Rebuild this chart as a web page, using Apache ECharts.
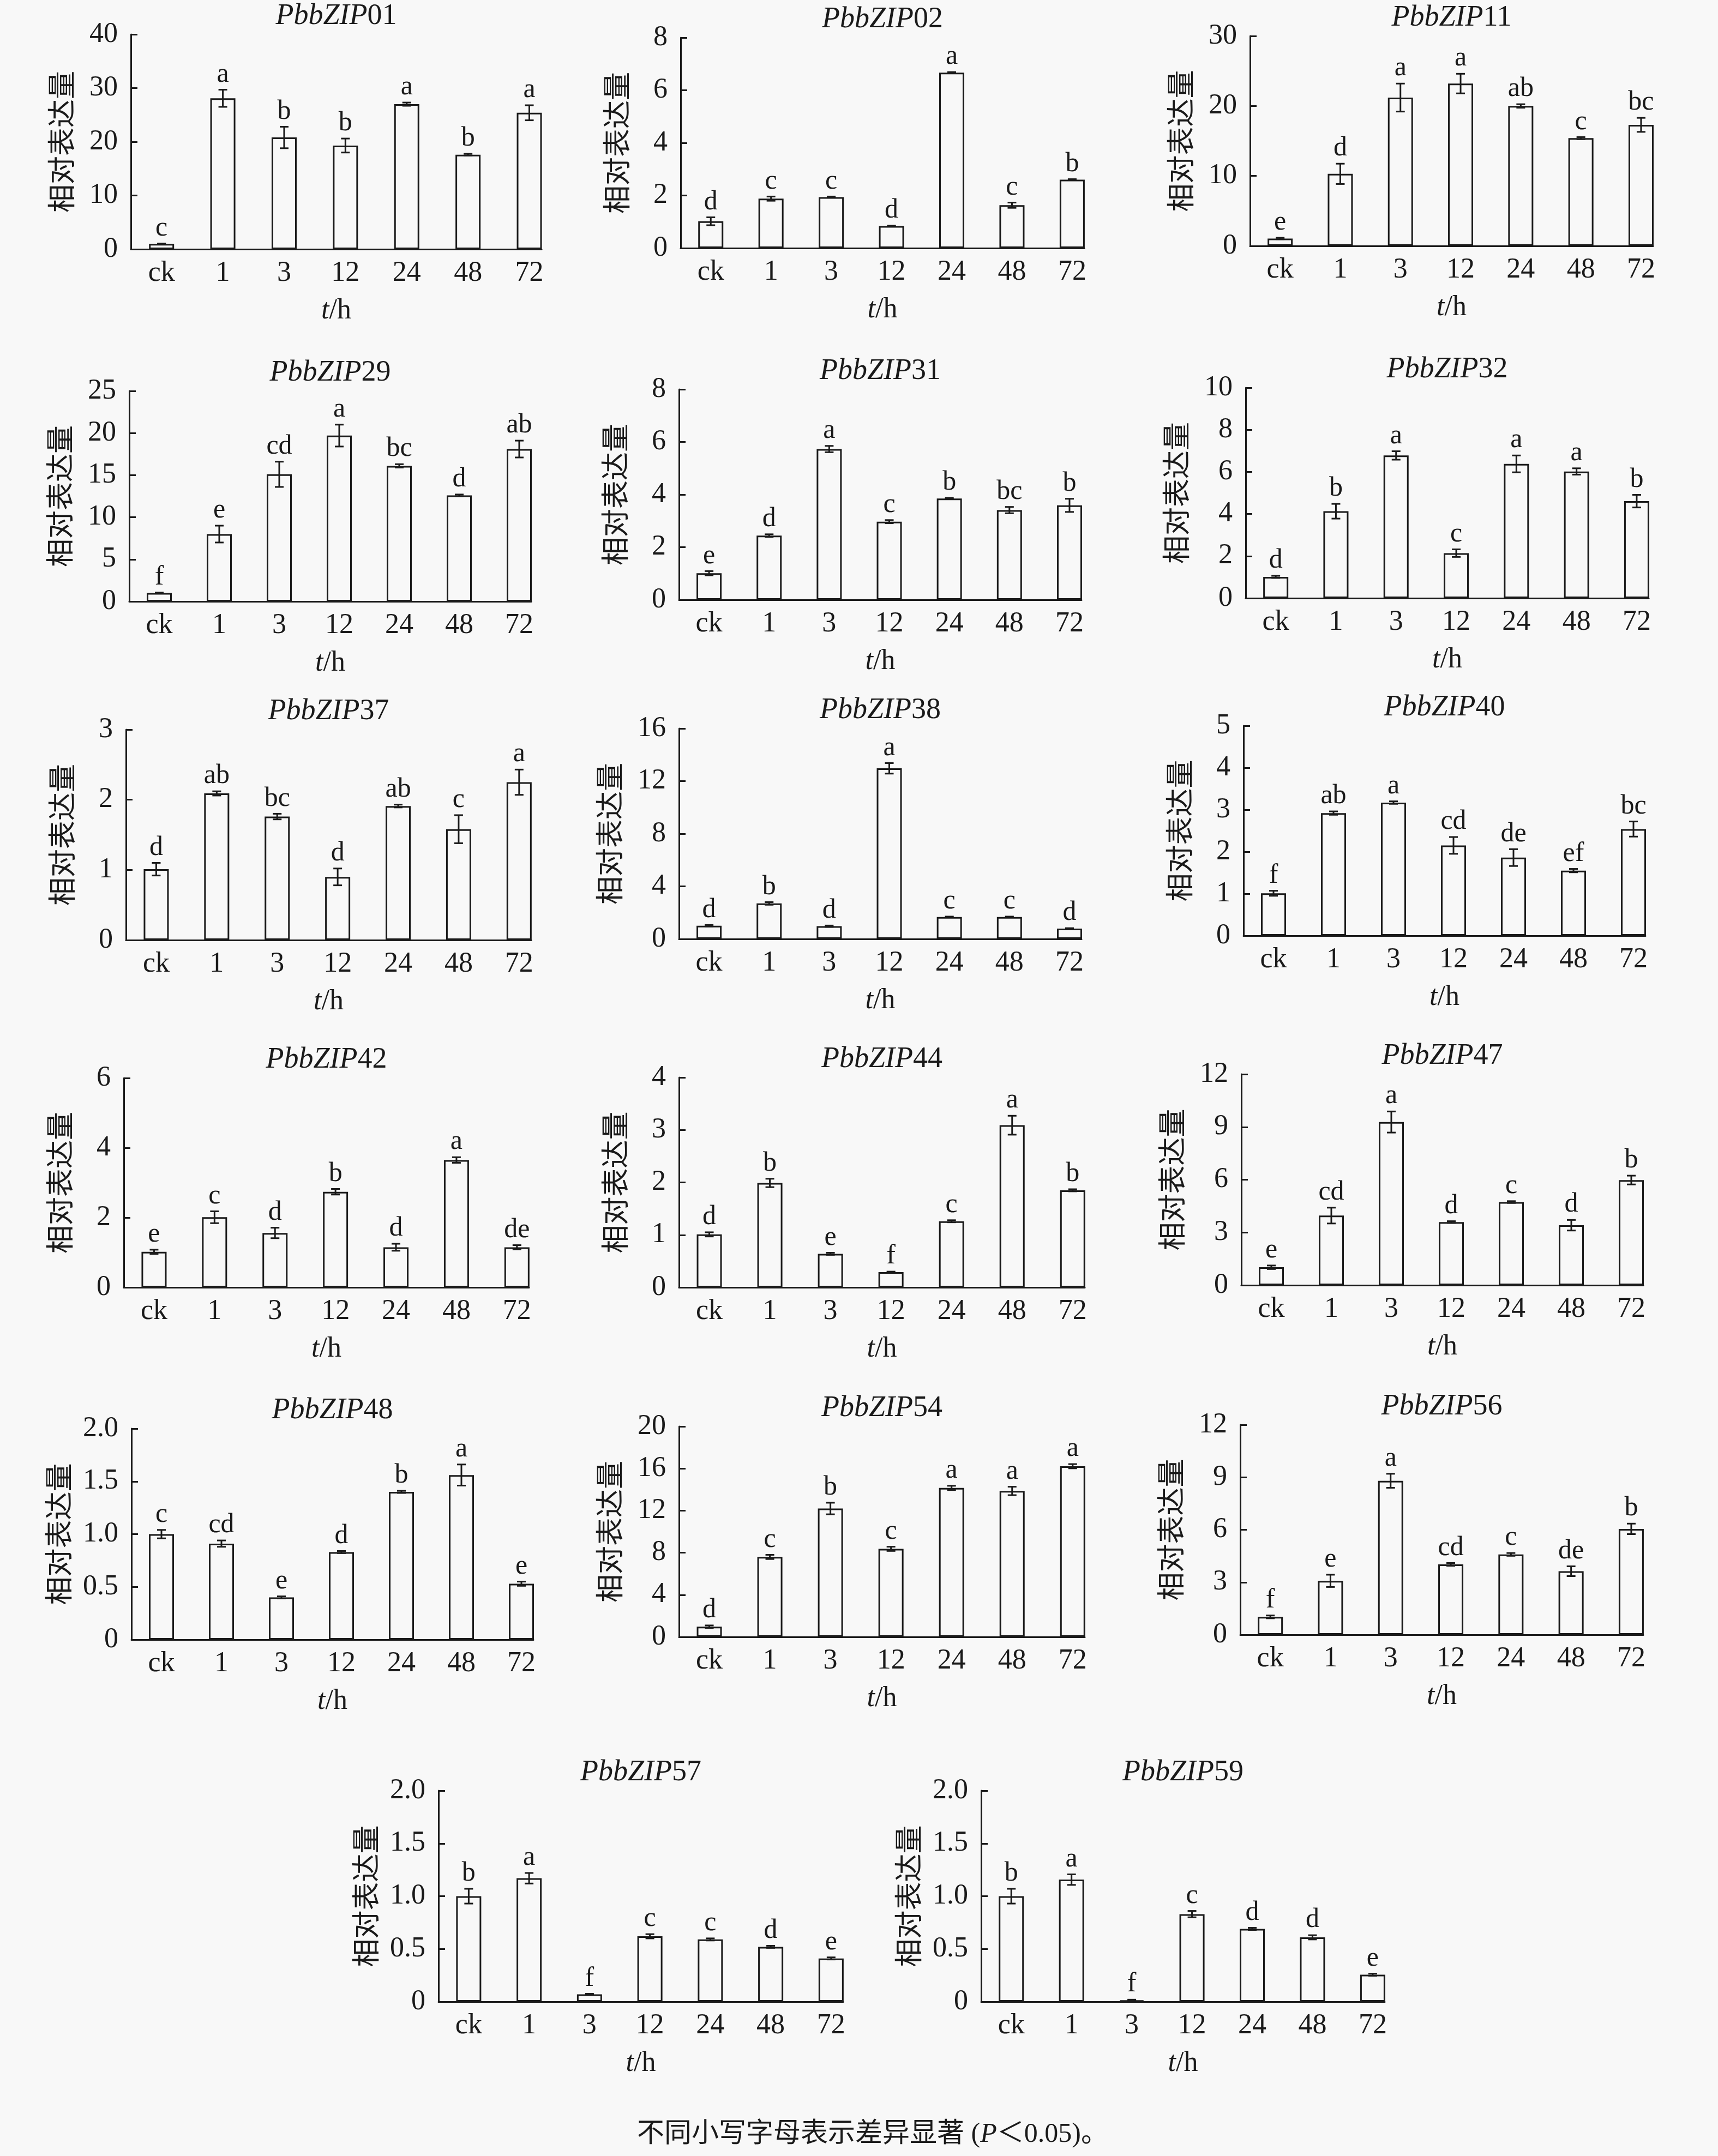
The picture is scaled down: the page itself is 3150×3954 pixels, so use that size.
<!DOCTYPE html>
<html><head><meta charset="utf-8">
<script src="https://cdn.jsdelivr.net/npm/echarts@6/dist/echarts.min.js"></script>
<style>html,body{margin:0;padding:0;background:#f8f8f8}#c{width:3150px;height:3954px}</style>
</head><body><div id="c"></div>
<script>
// ---------- data ----------
const categories = ['ck', '1', '3', '12', '24', '48', '72'];
const geneIds = ['01','02','11','29','31','32','37','38','40','42','44','47','48','54','56','57','59'];
const axisMax  = [40, 8, 30, 25, 8, 10, 3, 16, 5, 6, 4, 12, 2, 20, 12, 2, 2];
const axisStep = [10, 2, 10, 5, 2, 2, 1, 4, 1, 2, 1, 3, 0.5, 4, 3, 0.5, 0.5];

const mean01 = [1.0, 28.1, 20.8, 19.3, 27.0, 17.6, 25.4];
const err01  = [0.05, 1.6, 2.0, 1.3, 0.3, 0.15, 1.4];
const sig01  = ['c','a','b','b','a','b','a'];

const mean02 = [1.02, 1.88, 1.94, 0.84, 6.67, 1.63, 2.6];
const err02  = [0.15, 0.08, 0.02, 0.01, 0.02, 0.1, 0.02];
const sig02  = ['d','c','c','d','a','c','b'];

const mean11 = [1.06, 10.3, 21.2, 23.2, 20.0, 15.4, 17.3];
const err11  = [0.1, 1.45, 2.0, 1.4, 0.25, 0.15, 1.0];
const sig11  = ['e','d','a','a','ab','c','bc'];

const mean29 = [1.0, 8.0, 15.1, 19.7, 16.1, 12.6, 18.1];
const err29  = [0.05, 1.0, 1.5, 1.3, 0.2, 0.1, 1.0];
const sig29  = ['f','e','cd','a','bc','d','ab'];

const mean31 = [1.01, 2.44, 5.73, 2.97, 3.85, 3.41, 3.59];
const err31  = [0.08, 0.05, 0.12, 0.06, 0.02, 0.12, 0.25];
const sig31  = ['e','d','a','c','b','bc','b'];

const mean32 = [1.01, 4.13, 6.78, 2.14, 6.38, 6.02, 4.61];
const err32  = [0.05, 0.35, 0.2, 0.18, 0.4, 0.15, 0.3];
const sig32  = ['d','b','a','c','a','a','b'];

const mean37 = [1.01, 2.09, 1.76, 0.90, 1.91, 1.58, 2.25];
const err37  = [0.09, 0.03, 0.04, 0.12, 0.02, 0.2, 0.18];
const sig37  = ['d','ab','bc','d','ab','c','a'];

const mean38 = [1.01, 2.7, 0.97, 12.97, 1.67, 1.67, 0.79];
const err38  = [0.05, 0.1, 0.05, 0.4, 0.03, 0.03, 0.03];
const sig38  = ['d','b','d','a','c','c','d'];

const mean40 = [1.01, 2.92, 3.17, 2.15, 1.86, 1.55, 2.54];
const err40  = [0.06, 0.04, 0.03, 0.2, 0.2, 0.04, 0.18];
const sig40  = ['f','ab','a','cd','de','ef','bc'];

const mean42 = [1.02, 2.01, 1.56, 2.74, 1.15, 3.65, 1.15];
const err42  = [0.06, 0.17, 0.15, 0.08, 0.1, 0.08, 0.06];
const sig42  = ['e','c','d','b','d','a','de'];

const mean44 = [1.01, 1.99, 0.64, 0.29, 1.26, 3.09, 1.85];
const err44  = [0.04, 0.08, 0.02, 0.01, 0.02, 0.18, 0.02];
const sig44  = ['d','b','e','f','c','a','b'];

const mean47 = [1.02, 3.96, 9.28, 3.59, 4.73, 3.41, 5.98];
const err47  = [0.1, 0.45, 0.6, 0.05, 0.05, 0.3, 0.25];
const sig47  = ['e','cd','a','d','c','d','b'];

const mean48 = [1.0, 0.91, 0.40, 0.83, 1.40, 1.56, 0.53];
const err48  = [0.04, 0.03, 0.01, 0.01, 0.01, 0.1, 0.02];
const sig48  = ['c','cd','e','d','b','a','e'];

const mean54 = [0.97, 7.6, 12.2, 8.37, 14.16, 13.87, 16.22];
const err54  = [0.12, 0.2, 0.55, 0.2, 0.2, 0.4, 0.2];
const sig54  = ['d','c','b','c','a','a','a'];

const mean56 = [1.02, 3.08, 8.8, 4.02, 4.59, 3.63, 6.05];
const err56  = [0.08, 0.35, 0.4, 0.08, 0.08, 0.28, 0.3];
const sig56  = ['f','e','a','cd','c','de','b'];

const mean57 = [1.0, 1.17, 0.07, 0.62, 0.59, 0.52, 0.41];
const err57  = [0.07, 0.05, 0.005, 0.02, 0.01, 0.01, 0.01];
const sig57  = ['b','a','f','c','c','d','e'];

const mean59 = [1.0, 1.157, 0.014, 0.83, 0.69, 0.61, 0.256];
const err59  = [0.07, 0.05, 0.005, 0.03, 0.01, 0.02, 0.01];
const sig59  = ['b','a','f','c','d','d','e'];

const means = [mean01,mean02,mean11,mean29,mean31,mean32,mean37,mean38,mean40,mean42,mean44,mean47,mean48,mean54,mean56,mean57,mean59];
const errs  = [err01,err02,err11,err29,err31,err32,err37,err38,err40,err42,err44,err47,err48,err54,err56,err57,err59];
const sigs  = [sig01,sig02,sig11,sig29,sig31,sig32,sig37,sig38,sig40,sig42,sig44,sig47,sig48,sig54,sig56,sig57,sig59];

// ---------- layout (pixel boxes: left, top, right, zero-line) ----------
const panelBoxes = [
  [240, 63, 993, 457], [1248, 69, 1988, 455], [2292, 66, 3031, 451],
  [237, 717, 974, 1103], [1245, 714, 1983, 1100], [2284, 711, 3023, 1097],
  [231, 1338, 974, 1724], [1245, 1336, 1983, 1722], [2280, 1331, 3017, 1716],
  [227, 1977, 970, 2361], [1245, 1976, 1989, 2361], [2276, 1970, 3013, 2357],
  [241, 2620, 978, 3007], [1245, 2616, 1989, 3002], [2274, 2613, 3013, 2998],
  [804, 3284, 1546, 3671], [1799, 3284, 2539, 3671]
];

const SERIF = "'Liberation Serif', 'Times New Roman', 'Noto Sans CJK SC', serif";
const CJK = "'Noto Sans CJK SC', sans-serif";
const INK = '#1a1a1a';

function yFmt(step) {
  return function (v) { return v === 0 ? '0' : (step < 1 ? v.toFixed(1) : String(v)); };
}

const grids = [], xAxes = [], yAxes = [], series = [], titles = [];
geneIds.forEach(function (id, i) {
  const b = panelBoxes[i];
  grids.push({ left: b[0], top: b[1], width: b[2] - b[0], height: b[3] - b[1], containLabel: false });
  const fmt = yFmt(axisStep[i]);
  const lab = fmt(axisMax[i]).length;
  const gap = lab >= 3 ? 108 : (lab === 2 ? 102 : 92);
  xAxes.push({
    type: 'value', gridIndex: i, min: -0.5, max: 6.2,
    name: '{it|t}{n|/h}', nameLocation: 'middle', nameGap: 87,
    nameTextStyle: { rich: {
      it: { fontFamily: SERIF, fontStyle: 'italic', fontSize: 52, color: INK },
      n: { fontFamily: SERIF, fontSize: 52, color: INK } } },
    axisLine: { show: true, onZero: false, lineStyle: { color: INK, width: 3 } },
    axisTick: { show: false },
    splitLine: { show: false },
    axisLabel: {
      customValues: [0, 1, 2, 3, 4, 5, 6],
      formatter: function (v) { return categories[Math.round(v)]; },
      fontFamily: SERIF, fontSize: 52, color: INK, margin: 18
    }
  });
  yAxes.push({
    type: 'value', gridIndex: i, min: 0, max: axisMax[i], interval: axisStep[i],
    name: '相对表达量', nameLocation: 'middle', nameGap: gap,
    nameTextStyle: { fontFamily: CJK, fontSize: 52, color: INK },
    axisLine: { show: true, onZero: false, lineStyle: { color: INK, width: 3 } },
    axisTick: { show: true, inside: true, length: 12, lineStyle: { color: INK, width: 3 } },
    splitLine: { show: false },
    axisLabel: { formatter: fmt, fontFamily: SERIF, fontSize: 52, color: INK, margin: 24 }
  });
  titles.push({
    text: '{it|PbbZIP}{n|' + id + '}',
    left: (b[0] + b[2]) / 2, top: b[1] - 60, textAlign: 'center', padding: 0,
    textStyle: { fontWeight: 'normal', rich: {
      it: { fontFamily: SERIF, fontStyle: 'italic', fontWeight: 'normal', fontSize: 54, color: INK },
      n: { fontFamily: SERIF, fontWeight: 'normal', fontSize: 54, color: INK } } }
  });
  series.push({
    type: 'bar', xAxisIndex: i, yAxisIndex: i, barWidth: 46,
    data: means[i].map(function (v, j) { return [j, v]; }),
    itemStyle: { color: 'rgba(0,0,0,0)', borderColor: INK, borderWidth: 3 },
    silent: true, animation: false
  });
  const sg = sigs[i];
  series.push({
    type: 'custom', xAxisIndex: i, yAxisIndex: i, animation: false, silent: true, clip: false, z: 5,
    data: means[i].map(function (v, j) { return [j, v, errs[i][j]]; }),
    renderItem: function (params, api) {
      const x = api.value(0), y = api.value(1), e = api.value(2);
      const top = api.coord([x, y + e]);
      const bot = api.coord([x, y - e]);
      const cap = 8;
      const ls = { stroke: INK, lineWidth: 3 };
      return {
        type: 'group',
        children: [
          { type: 'line', shape: { x1: top[0], y1: top[1], x2: bot[0], y2: bot[1] }, style: ls },
          { type: 'line', shape: { x1: top[0] - cap, y1: top[1], x2: top[0] + cap, y2: top[1] }, style: ls },
          { type: 'line', shape: { x1: bot[0] - cap, y1: bot[1], x2: bot[0] + cap, y2: bot[1] }, style: ls },
          { type: 'text', x: top[0], y: top[1] - 3,
            style: { text: sg[params.dataIndex], fontFamily: SERIF, fontSize: 50, fill: INK,
                     align: 'center', verticalAlign: 'bottom' } }
        ]
      };
    }
  });
});

titles.push({
  text: '不同小写字母表示差异显著 ({it|P}＜0.05)。',
  left: 1600, top: 3890, textAlign: 'center', padding: 0,
  textStyle: { fontFamily: SERIF, fontSize: 50, color: INK, fontWeight: 'normal',
    rich: { it: { fontFamily: SERIF, fontStyle: 'italic', fontWeight: 'normal', fontSize: 50, color: INK } } }
});

const chart = echarts.init(document.getElementById('c'), null, { renderer: 'canvas' });
chart.setOption({
  backgroundColor: '#f8f8f8',
  animation: false,
  title: titles,
  grid: grids,
  xAxis: xAxes,
  yAxis: yAxes,
  series: series
});
</script></body></html>
